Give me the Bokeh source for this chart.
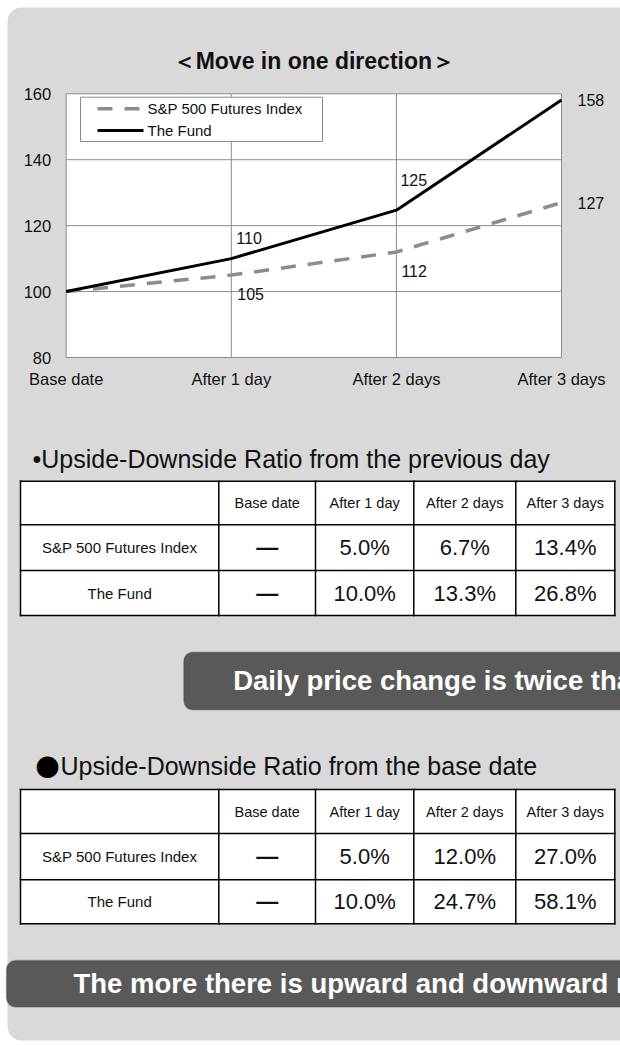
from bokeh.plotting import figure
from bokeh.models import (Range1d, FixedTicker, ColumnDataSource, LabelSet, BoxAnnotation,
                          LinearAxis)
from bokeh.embed import file_html
from bokeh.resources import INLINE
from bokeh.core.properties import value

# ---------------- data ----------------
periods = ["Base date", "After 1 day", "After 2 days", "After 3 days"]
series_names = ["S&P 500 Futures Index", "The Fund"]
sp500_index = [100, 105, 112, 127]
fund_index = [100, 110, 124.7, 158.1]
y_ticks = [80, 100, 120, 140, 160]

sp500_prev = [None, 5.0, 6.7, 13.4]
fund_prev = [None, 10.0, 13.3, 26.8]
sp500_base = [None, 5.0, 12.0, 27.0]
fund_base = [None, 10.0, 24.7, 58.1]

chart_title = "＜Move in one direction＞"
table1_title = "•Upside-Downside Ratio from the previous day"
table2_bullet = "●"
table2_title = "Upside-Downside Ratio from the base date"
message1 = "Daily price change is twice that of the S&P 500 Futures Index"
message2 = "The more there is upward and downward movement"

# ---------------- styles / layout (page pixels) ----------------
PANEL = "#d9d9d9"
TXT = "#111111"
GRID = "#8c8c8c"
FONT = "Liberation Sans"
SP_COLOR = "#8c8c8c"
FUND_COLOR = "#000000"
BOX_FILL = "#595959"

W, H = 620, 1045
PL, PR, PT, PB = 65.7, 561.0, 93.3, 357.0      # chart plot box

fund_label_offsets = [(5, 21), (4, 30), (16, 0)]
sp_label_offsets = [(6, -19), (5, -19), (16, 0)]

X_MAX = len(periods) - 1
Y_MIN, Y_MAX = y_ticks[0], y_ticks[-1]
SX = (PR - PL) / X_MAX
SY = (PB - PT) / (Y_MAX - Y_MIN)


def X(px):
    return (px - PL) / SX


def Y(py):
    return Y_MAX - (py - PT) / SY


p = figure(width=W, height=H, x_range=Range1d(X(0), X(W)), y_range=Range1d(Y(H), Y(0)),
           output_backend="svg", toolbar_location=None, x_axis_type=None, y_axis_type=None,
           min_border=0, background_fill_color="white", border_fill_color="white",
           outline_line_color=None)
p.grid.visible = False

# grey rounded panel
p.add_layout(BoxAnnotation(left=X(7), right=X(W + 40), top=Y(7), bottom=Y(1040),
                           fill_color=PANEL, fill_alpha=1, line_color=None,
                           border_radius=14, level="image"))
# white plot area
p.add_layout(BoxAnnotation(left=0, right=X_MAX, bottom=Y_MIN, top=Y_MAX,
                           fill_color="white", fill_alpha=1, line_color=None, level="image"))

xs = list(range(len(periods)))

# grid lines confined to the plot box
p.segment(x0=xs, x1=xs, y0=[Y_MIN] * len(xs), y1=[Y_MAX] * len(xs),
          line_color=GRID, line_width=1)
p.segment(x0=[0] * len(y_ticks), x1=[X_MAX] * len(y_ticks), y0=y_ticks, y1=y_ticks,
          line_color=GRID, line_width=1)

# axes pinned to the plot box
xaxis = LinearAxis(fixed_location=Y_MIN, ticker=FixedTicker(ticks=xs),
                   major_label_overrides={i: periods[i] for i in xs}, major_label_standoff=12)
yaxis = LinearAxis(fixed_location=0, ticker=FixedTicker(ticks=y_ticks), major_label_standoff=15)
for ax in (xaxis, yaxis):
    ax.axis_line_color = None
    ax.major_tick_line_color = None
    ax.minor_tick_line_color = None
    ax.major_tick_in = 0
    ax.major_tick_out = 0
    ax.minor_tick_in = 0
    ax.minor_tick_out = 0
    ax.major_label_text_font = FONT
    ax.major_label_text_font_size = "16.5px"
    ax.major_label_text_color = TXT
p.add_layout(xaxis, "below")
p.add_layout(yaxis, "left")

# series
p.line(xs, sp500_index, line_color=SP_COLOR, line_width=3.5, line_dash="15 12")
p.line(xs, fund_index, line_color=FUND_COLOR, line_width=3)

# data labels
lab = dict(x=[], y=[], text=[], xo=[], yo=[])
for series, offs in ((fund_index, fund_label_offsets), (sp500_index, sp_label_offsets)):
    for i in range(1, len(series)):
        lab["x"].append(xs[i])
        lab["y"].append(series[i])
        lab["text"].append(f"{series[i]:.0f}")
        lab["xo"].append(offs[i - 1][0])
        lab["yo"].append(offs[i - 1][1])
p.add_layout(LabelSet(x="x", y="y", text="text", x_offset="xo", y_offset="yo",
                      source=ColumnDataSource(lab), text_align="left", text_baseline="middle",
                      text_font=value(FONT), text_font_size="16px", text_color=TXT))

# legend box (Excel style)
p.quad(left=X(80), right=X(322), top=Y(96.7), bottom=Y(141),
       fill_color="white", line_color=GRID, line_width=1)
rows_y = [108.3, 130]
p.line([X(97), X(143)], [Y(rows_y[0])] * 2, line_color=SP_COLOR, line_width=3.5, line_dash="15 12")
p.line([X(97), X(143)], [Y(rows_y[1])] * 2, line_color=FUND_COLOR, line_width=3)
p.text(x=[X(147)] * 2, y=[Y(r) for r in rows_y], text=series_names,
       text_font=value(FONT), text_font_size="15px", text_color=TXT,
       text_align="left", text_baseline="middle")

# chart title
p.text(x=[X_MAX / 2], y=[Y(60)], text=[chart_title], text_font=value(FONT),
       text_font_size="23px", text_font_style="bold", text_color=TXT,
       text_align="center", text_baseline="middle")

# ---------------- tables ----------------
COL_EDGES = [20, 218.3, 315, 413.3, 515.3, 614.3]


def fmt(v):
    return "—" if v is None else f"{v:.1f}%"


def draw_table(row_edges, rows):
    x0, x1 = COL_EDGES[0], COL_EDGES[-1]
    top, bot = row_edges[0], row_edges[-1]
    p.quad(left=X(x0), right=X(x1), top=Y(top), bottom=Y(bot), fill_color="white", line_color=None)
    p.segment(x0=[X(x0)] * len(row_edges), x1=[X(x1)] * len(row_edges),
              y0=[Y(r) for r in row_edges], y1=[Y(r) for r in row_edges],
              line_color="black", line_width=1.5, line_cap="square")
    p.segment(x0=[X(c) for c in COL_EDGES], x1=[X(c) for c in COL_EDGES],
              y0=[Y(top)] * len(COL_EDGES), y1=[Y(bot)] * len(COL_EDGES),
              line_color="black", line_width=1.5, line_cap="square")
    centers = [(COL_EDGES[i] + COL_EDGES[i + 1]) / 2 for i in range(len(COL_EDGES) - 1)]
    rc = [(row_edges[i] + row_edges[i + 1]) / 2 for i in range(len(row_edges) - 1)]
    p.text(x=[X(c) for c in centers[1:]], y=[Y(rc[0])] * len(periods), text=periods,
           text_font=value(FONT), text_font_size="14.5px", text_color=TXT,
           text_align="center", text_baseline="middle")
    p.text(x=[X(centers[0])] * len(series_names), y=[Y(r) for r in rc[1:]], text=series_names,
           text_font=value(FONT), text_font_size="15px", text_color=TXT,
           text_align="center", text_baseline="middle")
    tx, ty, tt, ts = [], [], [], []
    for ri, vals in enumerate(rows):
        for ci, v in enumerate(vals):
            tx.append(X(centers[ci + 1]))
            ty.append(Y(rc[ri + 1]))
            tt.append(fmt(v))
            ts.append("bold" if v is None else "normal")
    p.text(x=tx, y=ty, text=tt, text_font_style=ts, text_font=value(FONT), text_font_size="22px",
           text_color=TXT, text_align="center", text_baseline="middle")


# section 1
p.text(x=[X(32)], y=[Y(458)], text=[table1_title], text_font=value(FONT),
       text_font_size="25px", text_color=TXT, text_baseline="middle")
draw_table([480.7, 524.3, 570, 615], [sp500_prev, fund_prev])

p.add_layout(BoxAnnotation(left=X(183.3), right=X(W + 60), top=Y(651.7), bottom=Y(709.3),
                           fill_color=BOX_FILL, fill_alpha=1, line_color="#3c3c3c", line_width=1.5,
                           border_radius=9, level="underlay"))
p.text(x=[X(232.7)], y=[Y(680)], text=[message1], text_font=value(FONT),
       text_font_size="27.5px", text_font_style="bold", text_color="white", text_baseline="middle")

# section 2
p.text(x=[X(35)], y=[Y(765)], text=[table2_bullet], text_font=value("Noto Sans CJK JP"),
       text_font_size="24px", text_color="black", text_baseline="middle")
p.text(x=[X(60)], y=[Y(765)], text=[table2_title], text_font=value(FONT),
       text_font_size="25px", text_color=TXT, text_baseline="middle")
draw_table([789, 833, 879.3, 923.3], [sp500_base, fund_base])

p.add_layout(BoxAnnotation(left=X(6), right=X(W + 60), top=Y(960), bottom=Y(1006.5),
                           fill_color=BOX_FILL, fill_alpha=1, line_color="#3c3c3c", line_width=1.5,
                           border_radius=9, level="underlay"))
p.text(x=[X(73)], y=[Y(983)], text=[message2], text_font=value(FONT),
       text_font_size="27.5px", text_font_style="bold", text_color="white", text_baseline="middle")

with open("out.html", "w") as f:
    f.write(file_html(p, INLINE))
